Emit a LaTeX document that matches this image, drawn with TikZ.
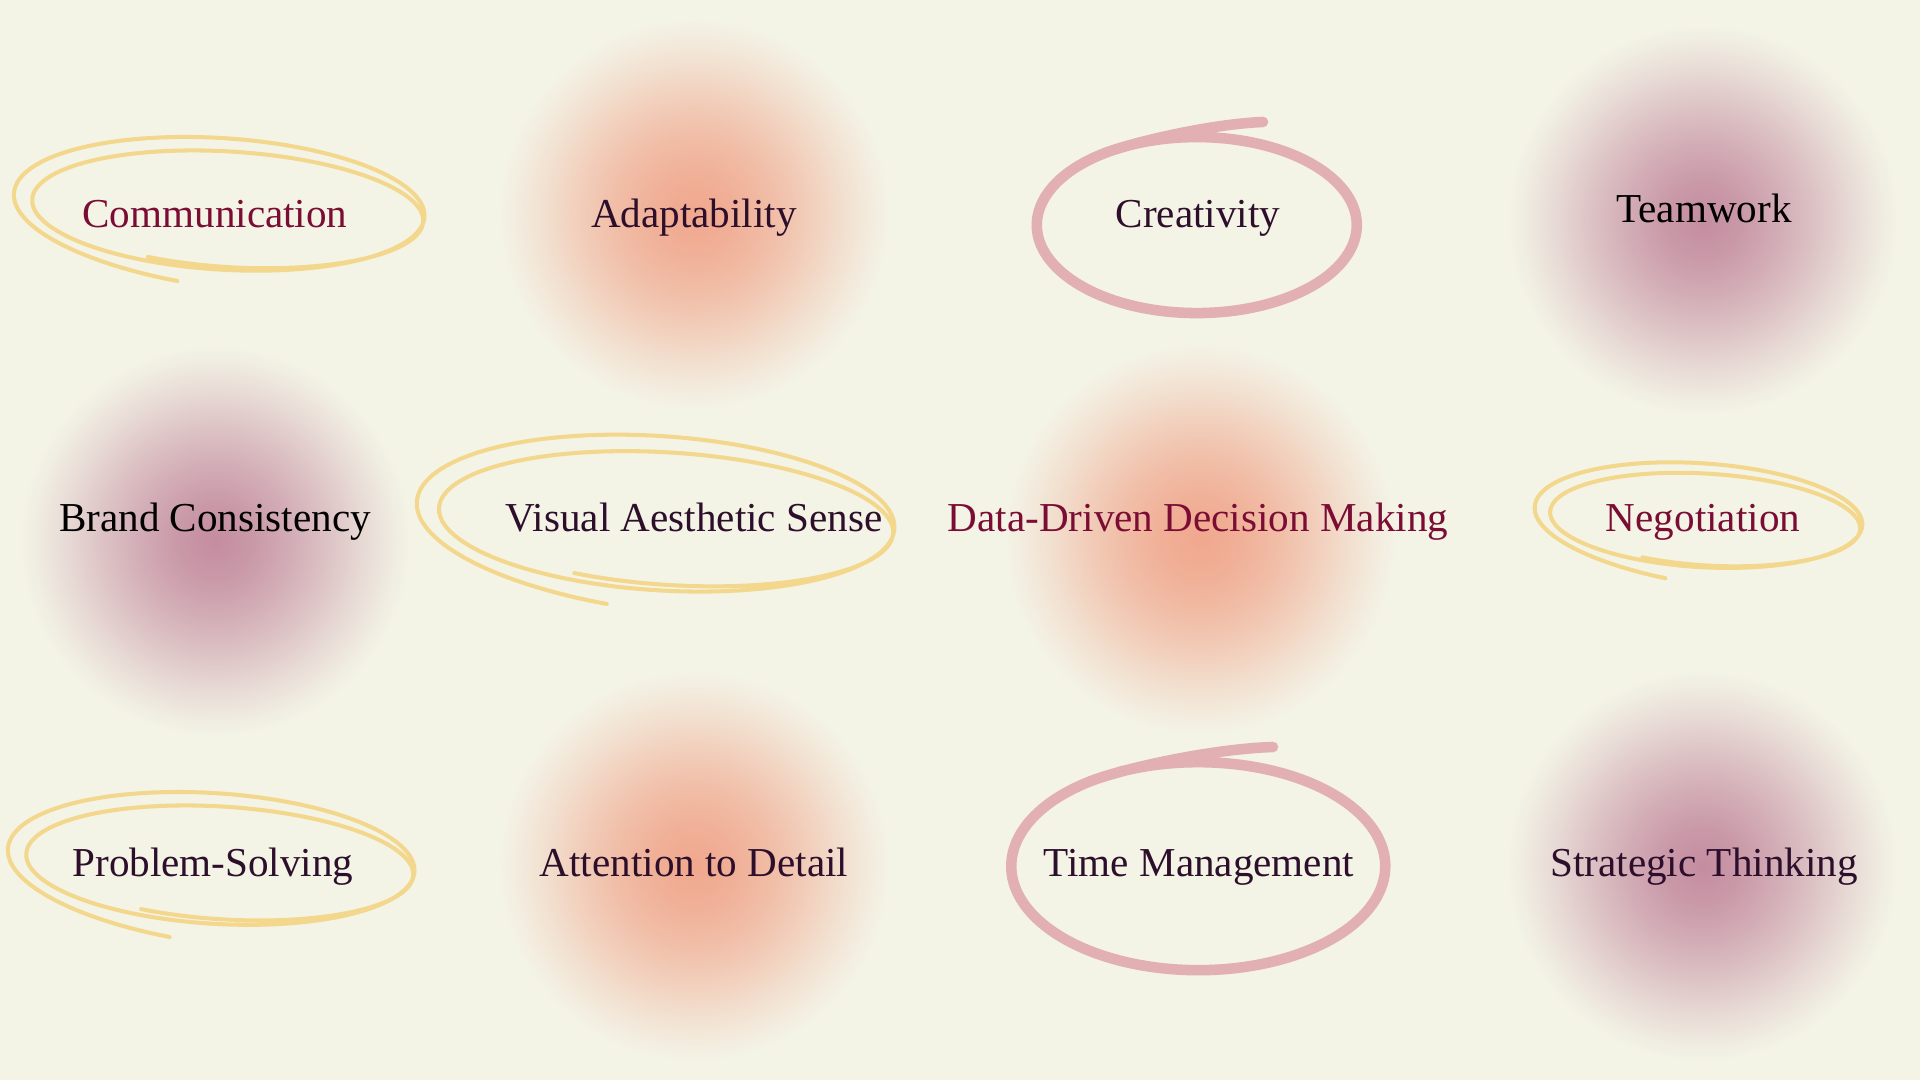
\documentclass[tikz,border=0pt]{standalone}
\usepackage{fontspec}
\setmainfont{Liberation Serif}
\definecolor{paper}{HTML}{F3F3E6}
\definecolor{peach}{HTML}{F0A88E}
\definecolor{mauve}{HTML}{C48DA0}
\definecolor{plum}{HTML}{2D0F2B}
\definecolor{wine}{HTML}{7B0D35}
\definecolor{straw}{HTML}{F3D78C}
\definecolor{rose}{HTML}{E2B0B2}
\pgfdeclareradialshading{peachglow}{\pgfpointorigin}{color(0bp)=(peach); color(5bp)=(peach!90!paper); color(10bp)=(peach!72!paper); color(15bp)=(peach!48!paper); color(20bp)=(peach!22!paper); color(23bp)=(peach!8!paper); color(25bp)=(paper); color(50bp)=(paper)}
\pgfdeclareradialshading{mauveglow}{\pgfpointorigin}{color(0bp)=(mauve); color(5bp)=(mauve!88!paper); color(10bp)=(mauve!68!paper); color(15bp)=(mauve!45!paper); color(20bp)=(mauve!20!paper); color(23bp)=(mauve!7!paper); color(25bp)=(paper); color(50bp)=(paper)}
\tikzset{
  skill/.style={anchor=base, font=\fontsize{11.7}{13}\selectfont, text=plum, inner sep=0pt},
  scribble/.style={draw=straw, line width=1.15pt, line cap=round, line join=round},
  roseloop/.style={draw=rose, line width=3pt, line cap=round, line join=round}
}
\begin{document}
\begin{tikzpicture}
  					\fill[paper] (0,0) rectangle (19.2,10.8);
  					\useasboundingbox (0,0) rectangle (19.2,10.8);
  					\foreach \gx/\gy in {6.94/8.66, 12.00/5.41, 6.94/2.14}
  					  \shade[shading=peachglow] (\gx,\gy) circle (1.95);
  					\foreach \gx/\gy in {17.03/8.60, 2.15/5.39, 17.02/2.14}
  					  \shade[shading=mauveglow] (\gx,\gy) circle (1.95);
  					\foreach \cx/\cy/\rx/\ry/\sx/\sy/\kx/\ky in {2.22/8.75/2.03/0.66/0.09/-0.05/0.10/0.08, 6.59/5.65/2.36/0.78/0.11/-0.05/0.12/0.11, 17.01/5.64/1.62/0.52/0.07/-0.04/0.09/0.06, 2.14/2.20/2.01/0.66/0.09/-0.04/0.10/0.09}
  					  \draw[scribble, rotate around={-3:(\cx,\cy)}] plot[domain=0:1, samples=180, smooth, variable=\t]
  					    ({\cx+\sx*(2*\t-0.5)+(\rx-\kx*(2*\t-0.5))*cos(-100-737*\t)}, {\cy+\sy*(2*\t-0.5)+(\ry-\ky*(2*\t-0.5)+0.12*(1-\t)^14)*sin(-100-737*\t)});
  					\draw[roseloop] (12.63,9.58) .. controls (12.1,9.56) and (11.31,9.37) .. (11.05,9.27)
  					  arc[start angle=125, end angle=475, x radius=1.6, y radius=0.88];
  					\draw[roseloop] (12.73,3.33) .. controls (12.1,3.31) and (11.22,3.11) .. (10.91,2.99)
  					  arc[start angle=125, end angle=475, x radius=1.87, y radius=1.04];
  					\node[skill, text=wine] (comm) at (2.15,8.52) {Communication};
  					\node[skill] (adapt) at (6.94,8.52) {Adaptability};
  					\node[skill] (creat) at (11.98,8.52) {Creativity};
  					\node[skill, text=black] (team) at (17.04,8.57) {Teamwork};
  					\node[skill, text=black] (brand) at (2.15,5.48) {Brand Consistency};
  					\node[skill] (visual) at (6.94,5.48) {Visual Aesthetic Sense};
  					\node[skill, text=wine] (data) at (11.98,5.48) {Data-Driven Decision Making};
  					\node[skill, text=wine] (nego) at (17.03,5.48) {Negotiation};
  					\node[skill] (prob) at (2.13,2.03) {Problem-Solving};
  					\node[skill] (attn) at (6.94,2.03) {Attention to Detail};
  					\node[skill] (time) at (11.99,2.03) {Time Management};
  					\node[skill] (strat) at (17.04,2.03) {Strategic Thinking};
  				\end{tikzpicture}
\end{document}
